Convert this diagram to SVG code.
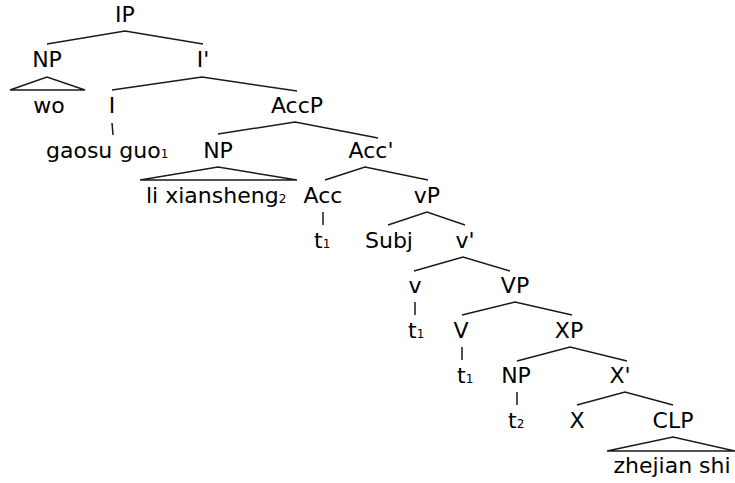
<svg xmlns="http://www.w3.org/2000/svg" width="735" height="483" viewBox="0 0 735 483">
<style>
text{font-family:"DejaVu Sans",Verdana,sans-serif;font-size:22px;fill:#000;text-anchor:middle}
text.s{text-anchor:start}
tspan.sub{font-size:12px}
.e line,.e polyline,.e polygon{stroke:#1a1a1a;stroke-width:1.5;fill:none}
</style>
<rect width="735" height="483" fill="#fff"/>
<g id="connectors" class="e">
<polyline points="47,44 125,31 203,44"/>
<polygon points="10,90 47,77 85,90"/>
<polyline points="112,90 202,77 297,91"/>
<line x1="112" y1="123" x2="113" y2="135"/>
<polyline points="218,134 295,122 378,138"/>
<polygon points="140,180 218,167 297,180"/>
<polyline points="325,180 365,167 428,180"/>
<line x1="323" y1="212" x2="323" y2="225"/>
<polyline points="388,225 427,212 465,225"/>
<polyline points="414,271 463,257 510,271"/>
<line x1="415" y1="302" x2="415" y2="315"/>
<polyline points="462,315 515,302 572,315"/>
<line x1="462" y1="347" x2="462" y2="360"/>
<polyline points="517,361 570,347 627,361"/>
<line x1="517" y1="392" x2="517" y2="405"/>
<polyline points="577,405 625,392 673,405"/>
<polygon points="607,451 673,437 735,451"/>
</g>
<g id="IP"><text x="125" y="22">IP</text></g>
<g id="NP1"><text x="47" y="67">NP</text></g>
<g id="Ibar"><text x="203" y="67">I'</text></g>
<g id="wo"><text x="49" y="113">wo</text></g>
<g id="I"><text x="112" y="113">I</text></g>
<g id="AccP"><text x="297" y="113">AccP</text></g>
<g id="gaosuguo"><text class="s" x="46" y="158">gaosu guo<tspan class="sub">1</tspan></text></g>
<g id="NP2"><text x="218" y="158">NP</text></g>
<g id="Accbar"><text x="371" y="158">Acc'</text></g>
<g id="lixiansheng"><text class="s" x="146" y="203">li xiansheng<tspan class="sub">2</tspan></text></g>
<g id="Acc"><text x="323" y="203">Acc</text></g>
<g id="vP"><text x="427" y="203">vP</text></g>
<g id="t1a"><text class="s" x="314" y="248">t<tspan class="sub">1</tspan></text></g>
<g id="Subj"><text x="389" y="248">Subj</text></g>
<g id="vbar"><text x="465" y="248">v'</text></g>
<g id="v"><text x="415" y="293">v</text></g>
<g id="VP"><text x="515" y="293">VP</text></g>
<g id="t1b"><text class="s" x="408" y="338">t<tspan class="sub">1</tspan></text></g>
<g id="V"><text x="461" y="338">V</text></g>
<g id="XP"><text x="569" y="338">XP</text></g>
<g id="t1c"><text class="s" x="457" y="383">t<tspan class="sub">1</tspan></text></g>
<g id="NP3"><text x="516" y="383">NP</text></g>
<g id="Xbar"><text x="620" y="383">X'</text></g>
<g id="t2"><text class="s" x="508" y="428">t<tspan class="sub">2</tspan></text></g>
<g id="X"><text x="577" y="428">X</text></g>
<g id="CLP"><text x="673" y="428">CLP</text></g>
<g id="zhejianshi"><text x="672" y="473">zhejian shi</text></g>
</svg>
